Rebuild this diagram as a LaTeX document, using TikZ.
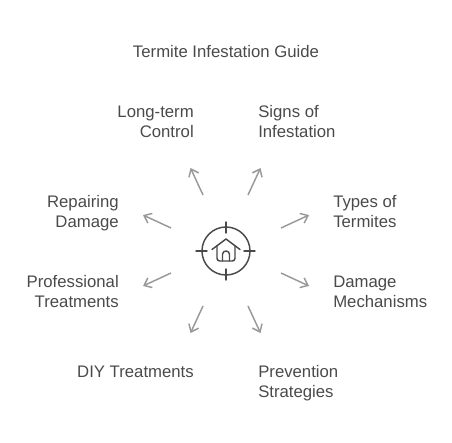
\documentclass[tikz,border=0pt]{standalone}
\usepackage{fontspec}
\setmainfont{Liberation Sans}
\usepackage{xcolor}
\usetikzlibrary{arrows.meta}

\begin{document}
\begin{tikzpicture}[
  x=0.75pt, y=-0.75pt,
  txtL/.style={align=right, anchor=east, inner sep=0pt, font=\fontsize{12.55}{15}\selectfont,
    text={rgb,255:red,74;green,74;blue,74}},
  txtR/.style={align=left, anchor=west, inner sep=0pt, font=\fontsize{12.55}{15}\selectfont,
    text={rgb,255:red,74;green,74;blue,74}},
  parr/.style={-{Straight Barb[length=5pt,width=8pt]},
    line width=1.1pt,
    color={rgb,255:red,153;green,153;blue,153}},
  icon/.style={line width=1.1pt, line cap=round, line join=round,
    color={rgb,255:red,74;green,74;blue,74}},
]
  \useasboundingbox (0,0) rectangle (452,442);

  %% ── Title ───────────────────────────────────────────────────
  \node[txtR, anchor=center] (title) at (226,51.5) {Termite Infestation Guide};

  %% ── Labels ──────────────────────────────────────────────────
  \node[txtL] (control) at (194,121.5) {Long-term\\Control};
  \node[txtR] (signs)   at (258,121.5) {Signs of\\Infestation};
  \node[txtR] (types)   at (333,211.5) {Types of\\Termites};
  \node[txtL] (repair)  at (119,213) {Repairing\\Damage};
  \node[txtL] (prof)    at (119,291.5) {Professional\\Treatments};
  \node[txtR] (mech)    at (333,291.5) {Damage\\Mechanisms};
  \node[txtL] (diy)     at (194,371.5) {DIY Treatments};
  \node[txtR] (prev)    at (258,383) {Prevention\\Strategies};

  %% ── Centre icon ─────────────────────────────────────────────
  \node[icon, draw, circle, minimum size=36pt, inner sep=0pt] (hub) at (226,251) {};
  \foreach \a/\b in {196/207, 244/255}
    \draw[icon] (\a,251) -- (\b,251);
  \foreach \a/\b in {222/233, 269/280}
    \draw[icon] (226,\a) -- (226,\b);
  \draw[icon] (212,249.5) -- (226,239) -- (240,249.5);
  \draw[icon, rounded corners=2pt] (217,245.5) -- (217,261) -- (235,261) -- (235,245.5);
  \draw[icon, rounded corners=2.5pt] (222.5,261) -- (222.5,251) -- (229.5,251) -- (229.5,261);

  %% ── Arrow ends ──────────────────────────────────────────────
  \foreach \n/\fx/\fy/\tx/\ty in {
      control/203/195/190.5/168, signs/248/195/260.5/168,
      types/281/228/309/215,     mech/281/273/309/286,
      prev/248/306/260.5/333,    diy/203/306/190.5/333,
      prof/171/273/143/286,      repair/171/228/143/215}{
    \coordinate (\n-from) at (\fx,\fy);
    \coordinate (\n-to) at (\tx,\ty);
  }

  %% ── Arrows ──────────────────────────────────────────────────
  \foreach \t in {control, signs, types, mech, prev, diy, prof, repair}
    \draw[parr] (\t-from) -- (\t-to);

\end{tikzpicture}
\end{document}
